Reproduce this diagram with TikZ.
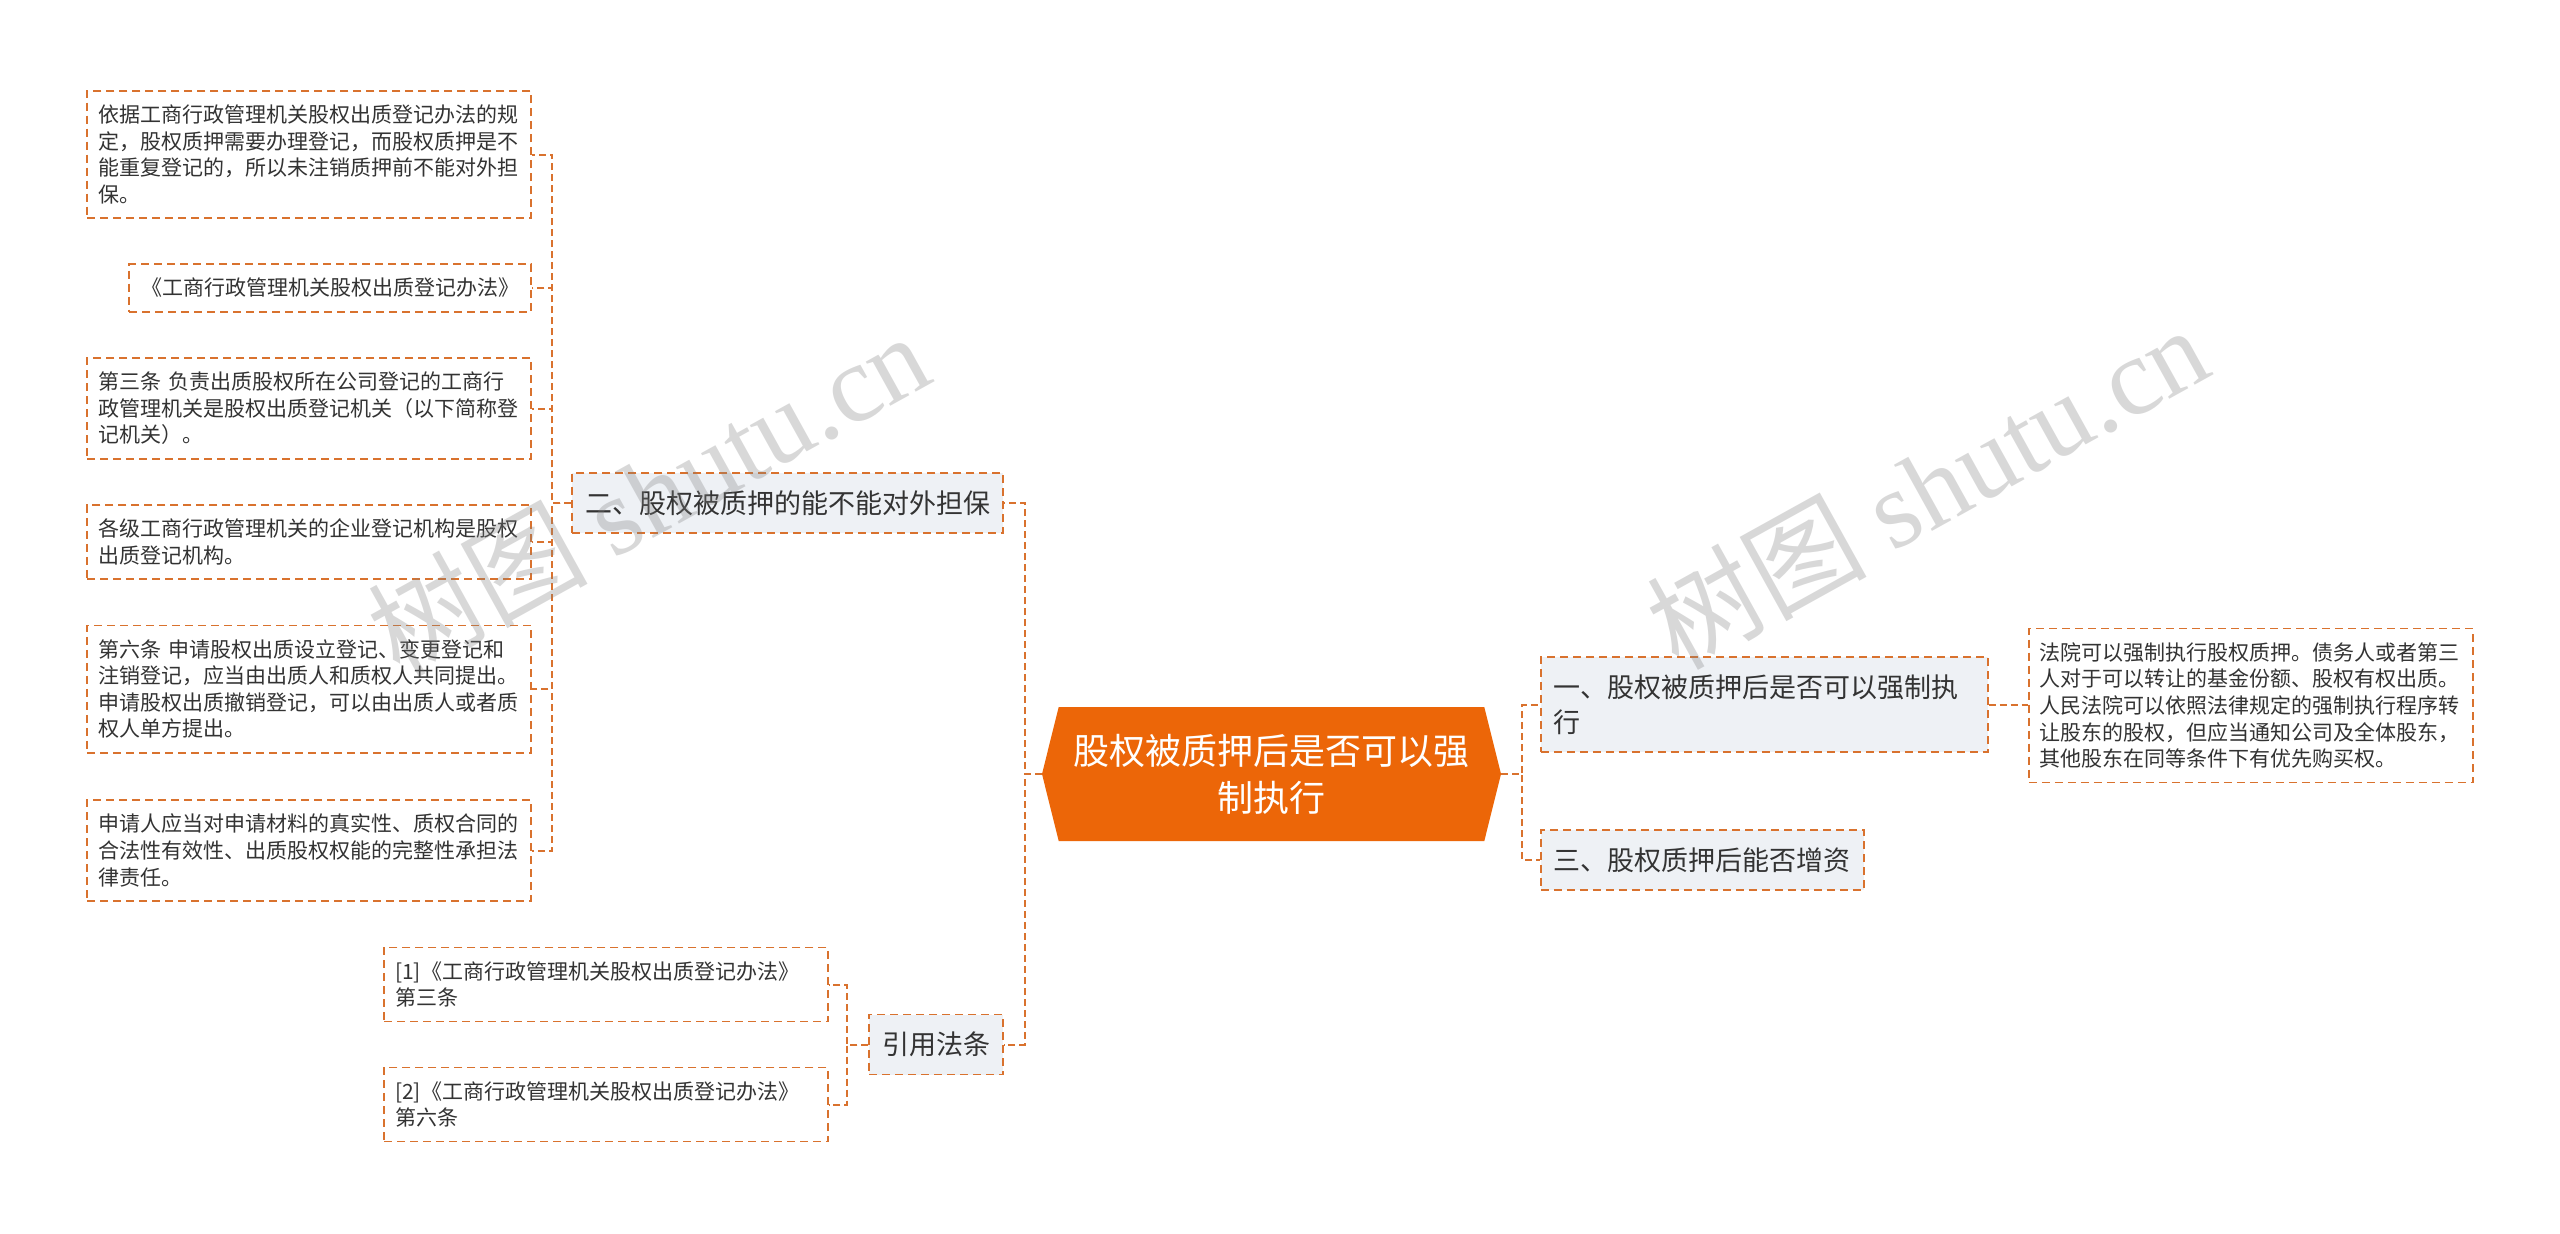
\documentclass[tikz,border=0pt]{standalone}
\usepackage{fontspec}
\setmainfont{Noto Sans CJK SC}
\newfontfamily\wmlatin{Liberation Serif}
\usepackage{tikz}
\usetikzlibrary{shapes.symbols}
\definecolor{lineor}{HTML}{D9722E}
\definecolor{rootor}{HTML}{EC6608}
\definecolor{branchbg}{HTML}{EEF1F5}
\definecolor{txt}{HTML}{333333}

\begin{document}
\begin{tikzpicture}[x=0.5pt, y=-0.5pt,
    topic/.style={signal, signal to=west and east, signal pointer angle=152,
                  fill=rootor, text=white, align=center, inner sep=0pt,
                  minimum width=229.5pt, minimum height=67pt,
                  font=\fontsize{18}{23.5}\selectfont},
    branch/.style={draw=lineor, dash pattern=on 4pt off 2.5pt, line width=0.8pt,
                   fill=branchbg, text=txt, align=left, inner xsep=6.5pt,
                   inner ysep=8.75pt, font=\fontsize{13.5}{17.5}\selectfont},
    leaf/.style={draw=lineor, dash pattern=on 4pt off 2.5pt, line width=0.8pt,
                 fill=white, text=txt, align=left, inner xsep=5.5pt,
                 inner ysep=7pt, text width=211pt,
                 font=\fontsize{10.5}{13.3}\selectfont},
    link/.style={draw=lineor, line width=1pt, dash pattern=on 3.5pt off 2pt},
    wmark/.style={text=black!50, opacity=0.3, rotate=29,
                  font=\fontsize{55}{60}\selectfont}
  ]
    \fill[white] (0,0) rectangle (2560,1233);
    \useasboundingbox (0,0) rectangle (2560,1233);

    \node[topic] (root) at (1271.5,774) {股权被质押后是否可以强\\制执行};

    % left side
    \node[branch, anchor=east] (q2) at (1004,503) {二、股权被质押的能不能对外担保};
    \node[branch, anchor=east] (cite) at (1004,1044.5) {引用法条};

    \node[leaf, anchor=east] (l1) at (532,154.5)
      {依据工商行政管理机关股权出质登记办法的规\\定，股权质押需要办理登记，而股权质押是不\\能重复登记的，所以未注销质押前不能对外担\\保。};
    \node[leaf, anchor=east, text width=, inner xsep=6pt] (l2) at (532,288)
      {《工商行政管理机关股权出质登记办法》};
    \node[leaf, anchor=east] (l3) at (532,408.5)
      {第三条 负责出质股权所在公司登记的工商行\\政管理机关是股权出质登记机关（以下简称登\\记机关）。};
    \node[leaf, anchor=east] (l4) at (532,542)
      {各级工商行政管理机关的企业登记机构是股权\\出质登记机构。};
    \node[leaf, anchor=east] (l5) at (532,689)
      {第六条 申请股权出质设立登记、变更登记和\\注销登记，应当由出质人和质权人共同提出。\\申请股权出质撤销登记，可以由出质人或者质\\权人单方提出。};
    \node[leaf, anchor=east] (l6) at (532,850.5)
      {申请人应当对申请材料的真实性、质权合同的\\合法性有效性、出质股权权能的完整性承担法\\律责任。};

    \node[leaf, anchor=east] (c1) at (829,984.5)
      {[1]《工商行政管理机关股权出质登记办法》\\第三条};
    \node[leaf, anchor=east] (c2) at (829,1104.5)
      {[2]《工商行政管理机关股权出质登记办法》\\第六条};

    % right side
    \node[branch, anchor=west, text width=210.5pt] (q1) at (1540,704.5)
      {一、股权被质押后是否可以强制执\\行};
    \node[branch, anchor=west] (q3) at (1540,860) {三、股权质押后能否增资};
    \node[leaf, anchor=west] (ans) at (2028,705.5)
      {法院可以强制执行股权质押。债务人或者第三\\人对于可以转让的基金份额、股权有权出质。\\人民法院可以依照法律规定的强制执行程序转\\让股东的股权，但应当通知公司及全体股东，\\其他股东在同等条件下有优先购买权。};

    \draw[link] (root.west) -- ++(-17,0) |- (q2.east);
    \draw[link] (root.west) -- ++(-17,0) |- (cite.east);
    \foreach \n in {l1,l2,l3,l4,l5,l6}
      \draw[link] (q2.west) -- ++(-19,0) |- (\n.east);
    \foreach \n in {c1,c2}
      \draw[link] (cite.west) -- ++(-21,0) |- (\n.east);
    \draw[link] (root.east) -- ++(21,0) |- (q1.west);
    \draw[link] (root.east) -- ++(21,0) |- (q3.west);
    \draw[link] (q1.east) -- (q1.east -| ans.west);

    \node[wmark] (wm1) at (648,493) {树图 {\wmlatin shutu.cn}};
    \node[wmark] (wm2) at (1927,486) {树图 {\wmlatin shutu.cn}};
  \end{tikzpicture}
\end{document}
